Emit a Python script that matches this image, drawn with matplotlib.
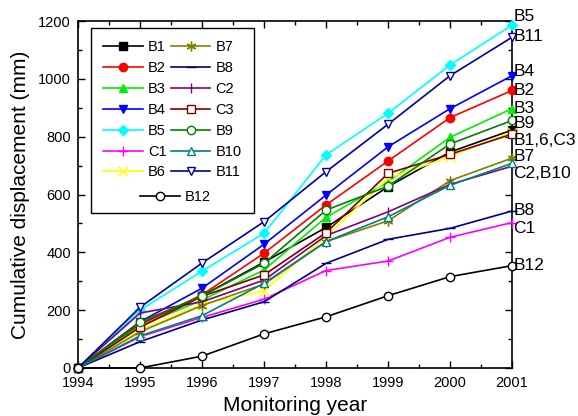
import matplotlib
matplotlib.use("Agg")
import matplotlib.pyplot as plt
from matplotlib.ticker import MultipleLocator
from matplotlib.lines import Line2D

plt.rcParams['font.family'] = ['Liberation Sans', 'DejaVu Sans']

years = [1994, 1995, 1996, 1997, 1998, 1999, 2000, 2001]

B1 = [0, 152, 250, 366, 486, 627, 747, 823]
B2 = [0, 150, 253, 397, 564, 716, 866, 960]
B3 = [0, 145, 235, 339, 521, 644, 798, 897]
B4 = [0, 160, 276, 428, 598, 765, 897, 1011]
B5 = [0, 200, 335, 466, 737, 881, 1048, 1186]
C1 = [0, 108, 175, 238, 337, 370, 452, 503]
B6 = [0, 130, 221, 267, 455, 656, 731, 817]
B7 = [0, 125, 216, 290, 437, 509, 648, 726]
B8 = [0, 91, 166, 229, 362, 445, 483, 543]
C2 = [0, 190, 229, 304, 458, 540, 635, 698]
C3 = [0, 141, 248, 322, 468, 673, 739, 809]
B9 = [0, 159, 249, 362, 546, 629, 775, 856]
B10 = [0, 111, 181, 293, 437, 523, 632, 708]
B11 = [0, 210, 363, 506, 679, 843, 1011, 1144]
B12 = [0, 0, 41, 118, 177, 250, 316, 354]

# right-hand end labels and their heights
end_labels = ['B5', 'B11', 'B4', 'B2', 'B3', 'B9', 'B1,6,C3', 'B7', 'C2,B10', 'B8', 'C1', 'B12']
end_label_y = [1214, 1145, 1024, 961, 899, 844, 788, 730, 671, 546, 484, 356]

# name, data, color, marker, filled
series = [
    ('B1', B1, 'black', 's', True),
    ('B2', B2, 'red', 'o', True),
    ('B3', B3, '#00ee00', '^', True),
    ('B4', B4, 'blue', 'v', True),
    ('B5', B5, 'cyan', 'D', True),
    ('C1', C1, 'magenta', '+', True),
    ('B6', B6, 'yellow', 'x', True),
    ('B7', B7, '#808000', (6, 2, 0), True),
    ('B8', B8, '#000080', '_', True),
    ('C2', C2, '#800080', '|', True),
    ('C3', C3, '#800000', 's', False),
    ('B9', B9, '#008000', 'o', False),
    ('B10', B10, '#008080', '^', False),
    ('B11', B11, '#0000a0', 'v', False),
    ('B12', B12, 'black', 'o', False),
]

fig = plt.figure(figsize=(5.78, 4.16), dpi=100)
ax = fig.add_axes([0.135, 0.1154, 0.751, 0.8341])

handles = {}
for name, vals, col, mk, filled in series:
    ms = 5 if mk == 'D' else 6
    if mk in ('+', 'x', (6, 2, 0), '_', '|'):
        ms = 7
    h, = ax.plot(years, vals, color=col, marker=mk, markersize=ms, lw=1.2,
                 markerfacecolor=col if filled else 'white',
                 markeredgecolor=col, markeredgewidth=1.0, clip_on=False,
                 label=name, zorder=3)
    handles[name] = h

for lab, y in zip(end_labels, end_label_y):
    ax.text(2001.02, y, lab, fontsize=12.5, va='center', ha='left', clip_on=False)

ax.set_xlim(1994, 2001)
ax.set_ylim(0, 1200)
ax.xaxis.set_major_locator(MultipleLocator(1))
ax.xaxis.set_minor_locator(MultipleLocator(0.5))
ax.yaxis.set_major_locator(MultipleLocator(200))
ax.yaxis.set_minor_locator(MultipleLocator(100))
ax.tick_params(which='both', direction='in', top=True, right=True, labelsize=10.5)
ax.tick_params(axis='x', pad=6)
ax.tick_params(axis='y', pad=5)
ax.tick_params(which='major', length=5, width=1)
ax.tick_params(which='minor', length=3, width=1)
for s in ax.spines.values():
    s.set_linewidth(1.2)

ax.set_xlabel('Monitoring year', fontsize=15, labelpad=4)
ax.set_ylabel('Cumulative displacement (mm)', fontsize=15, labelpad=6)

blank = Line2D([], [], color='none')
col1 = ['B1', 'B2', 'B3', 'B4', 'B5', 'C1', 'B6']
col2 = ['B7', 'B8', 'C2', 'C3', 'B9', 'B10', 'B11']
hs = [handles[n] for n in col1] + [blank] + [handles[n] for n in col2] + [blank]
ls = col1 + [''] + col2 + ['']
leg1 = ax.legend(hs, ls, ncol=2, loc='upper left', bbox_to_anchor=(0.03, 0.98),
                 borderaxespad=0, fontsize=10.5, handlelength=2.7, handletextpad=0.35,
                 columnspacing=0.3, labelspacing=0.47, borderpad=0.85, fancybox=False,
                 edgecolor='black', framealpha=1)
leg1.get_frame().set_linewidth(1.0)
leg2 = ax.legend([handles['B12']], ['B12'], loc='center', bbox_to_anchor=(0.225, 0.493),
                 borderaxespad=0, fontsize=10.5, handlelength=2.7, handletextpad=0.35,
                 frameon=False)
ax.add_artist(leg1)

fig.savefig('out.png', dpi=100)
